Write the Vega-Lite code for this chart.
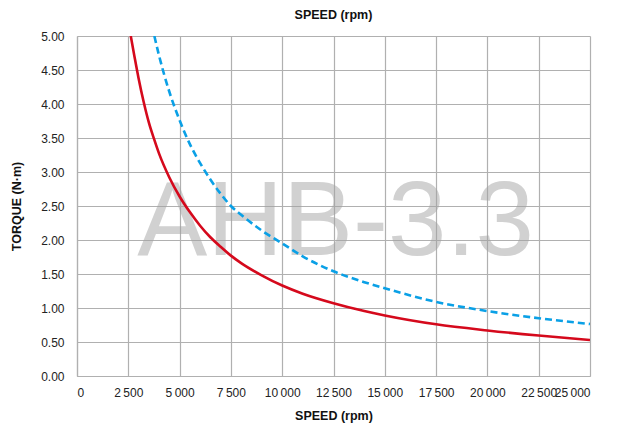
{
  "$schema": "https://vega.github.io/schema/vega-lite/v6.json",
  "autosize": "none",
  "width": 513,
  "height": 340,
  "padding": {"left": 77, "top": 36, "right": 29, "bottom": 56},
  "background": "white",
  "config": {
    "font": "Liberation Sans",
    "view": {"stroke": null},
    "axis": {"labelFont": "Liberation Sans", "titleFont": "Liberation Sans"}
  },
  "title": {
    "text": "SPEED (rpm)",
    "fontSize": 12.5,
    "fontWeight": "bold",
    "color": "#111",
    "font": "Liberation Sans",
    "anchor": "middle",
    "offset": 9
  },
  "datasets": {
    "curves": [
      {"speed": 2620, "torque": 5.00, "series": "S1"},
      {"speed": 2800, "torque": 4.70, "series": "S1"},
      {"speed": 3000, "torque": 4.38, "series": "S1"},
      {"speed": 3250, "torque": 4.03, "series": "S1"},
      {"speed": 3500, "torque": 3.73, "series": "S1"},
      {"speed": 3750, "torque": 3.49, "series": "S1"},
      {"speed": 4000, "torque": 3.27, "series": "S1"},
      {"speed": 4500, "torque": 2.92, "series": "S1"},
      {"speed": 5000, "torque": 2.64, "series": "S1"},
      {"speed": 5500, "torque": 2.41, "series": "S1"},
      {"speed": 6000, "torque": 2.21, "series": "S1"},
      {"speed": 6500, "torque": 2.04, "series": "S1"},
      {"speed": 7000, "torque": 1.90, "series": "S1"},
      {"speed": 7500, "torque": 1.77, "series": "S1"},
      {"speed": 8000, "torque": 1.66, "series": "S1"},
      {"speed": 9000, "torque": 1.48, "series": "S1"},
      {"speed": 10000, "torque": 1.33, "series": "S1"},
      {"speed": 11000, "torque": 1.21, "series": "S1"},
      {"speed": 12500, "torque": 1.07, "series": "S1"},
      {"speed": 14000, "torque": 0.955, "series": "S1"},
      {"speed": 15000, "torque": 0.89, "series": "S1"},
      {"speed": 17500, "torque": 0.76, "series": "S1"},
      {"speed": 20000, "torque": 0.67, "series": "S1"},
      {"speed": 22500, "torque": 0.595, "series": "S1"},
      {"speed": 25000, "torque": 0.53, "series": "S1"},
      {"speed": 3770, "torque": 5.00, "series": "S2"},
      {"speed": 4000, "torque": 4.71, "series": "S2"},
      {"speed": 4250, "torque": 4.43, "series": "S2"},
      {"speed": 4500, "torque": 4.18, "series": "S2"},
      {"speed": 5000, "torque": 3.76, "series": "S2"},
      {"speed": 5500, "torque": 3.41, "series": "S2"},
      {"speed": 6000, "torque": 3.13, "series": "S2"},
      {"speed": 6500, "torque": 2.89, "series": "S2"},
      {"speed": 7000, "torque": 2.68, "series": "S2"},
      {"speed": 7500, "torque": 2.50, "series": "S2"},
      {"speed": 8000, "torque": 2.37, "series": "S2"},
      {"speed": 9000, "torque": 2.14, "series": "S2"},
      {"speed": 10000, "torque": 1.95, "series": "S2"},
      {"speed": 11000, "torque": 1.76, "series": "S2"},
      {"speed": 12500, "torque": 1.54, "series": "S2"},
      {"speed": 14000, "torque": 1.38, "series": "S2"},
      {"speed": 15000, "torque": 1.29, "series": "S2"},
      {"speed": 17500, "torque": 1.09, "series": "S2"},
      {"speed": 20000, "torque": 0.955, "series": "S2"},
      {"speed": 22500, "torque": 0.85, "series": "S2"},
      {"speed": 25000, "torque": 0.765, "series": "S2"}
    ],
    "mark": [
      {"speed": 12600, "torque": 1.78, "label": "AHB-3.3"}
    ]
  },
  "layer": [
    {
      "data": {"name": "mark"},
      "mark": {"type": "text", "fontSize": 105, "font": "Liberation Sans", "color": "#a4a4a4", "opacity": 0.5, "align": "center", "baseline": "alphabetic"},
      "encoding": {
        "x": {"field": "speed", "type": "quantitative", "scale": {"domain": [0, 25000], "nice": false},
          "axis": {
            "values": [0, 2500, 5000, 7500, 10000, 12500, 15000, 17500, 20000, 22500, 25000],
            "tickCount": 20,
            "labelExpr": "replace(format(datum.value, ',d'), ',', '\u2009')",
            "labelOverlap": false,
            "title": "SPEED (rpm)",
            "titleFontSize": 12.5, "titleFontWeight": "bold", "titleColor": "#111", "titlePadding": 11,
            "labelFontSize": 12, "labelColor": "#222", "labelPadding": 11,
            "ticks": false,
            "grid": true, "gridColor": "#b0b0b0", "gridWidth": 1.2,
            "domain": true, "domainColor": "#b0b0b0", "domainWidth": 1.2
          }},
        "y": {"field": "torque", "type": "quantitative", "scale": {"domain": [0, 5], "nice": false},
          "axis": {
            "values": [0, 0.5, 1, 1.5, 2, 2.5, 3, 3.5, 4, 4.5, 5],
            "tickCount": 20,
            "format": ".2f",
            "labelOverlap": false,
            "title": "TORQUE (N·m)",
            "titleFontSize": 12.5, "titleFontWeight": "bold", "titleColor": "#111", "titlePadding": 17,
            "labelFontSize": 12, "labelColor": "#222", "labelPadding": 13,
            "ticks": false,
            "grid": true, "gridColor": "#b0b0b0", "gridWidth": 1.2,
            "domain": true, "domainColor": "#b0b0b0", "domainWidth": 1.2
          }},
        "text": {"field": "label"}
      }
    },
    {
      "data": {"name": "curves"},
      "transform": [{"filter": "datum.series == 'S2'"}],
      "mark": {"type": "line", "color": "#0aa0e6", "strokeWidth": 2.6, "strokeDash": [7, 4], "interpolate": "monotone", "clip": true},
      "encoding": {
        "x": {"field": "speed", "type": "quantitative"},
        "y": {"field": "torque", "type": "quantitative"},
        "order": {"field": "speed"}
      }
    },
    {
      "data": {"name": "curves"},
      "transform": [{"filter": "datum.series == 'S1'"}],
      "mark": {"type": "line", "color": "#d5091c", "strokeWidth": 2.6, "interpolate": "monotone", "clip": true},
      "encoding": {
        "x": {"field": "speed", "type": "quantitative"},
        "y": {"field": "torque", "type": "quantitative"},
        "order": {"field": "speed"}
      }
    }
  ]
}
